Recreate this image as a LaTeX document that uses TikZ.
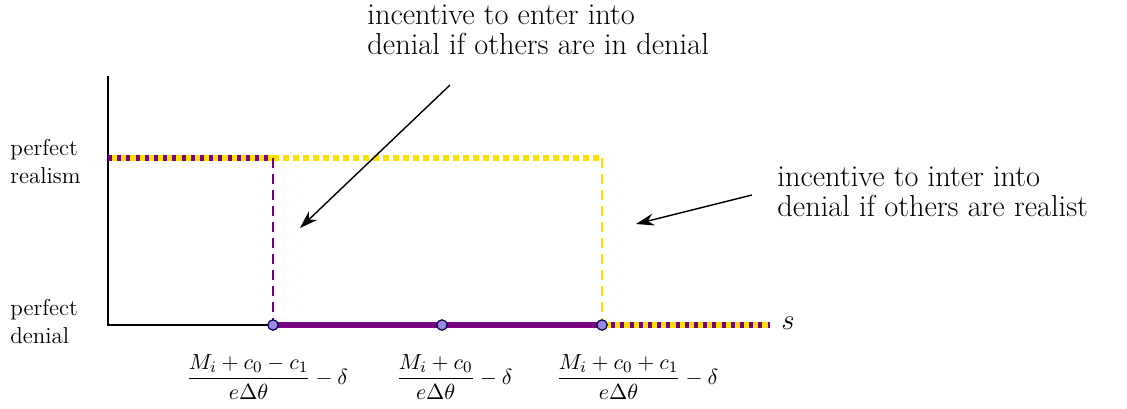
\documentclass[tikz,border=0pt]{standalone}
\usepackage{amsmath}
\usetikzlibrary{arrows.meta}
\definecolor{myyel}{RGB}{250,225,0}
\definecolor{mypur}{RGB}{120,0,130}
\definecolor{ptfill}{RGB}{150,140,230}
\begin{document}
\begin{tikzpicture}[x=0.5pt,y=-0.5pt,
  axis/.style={draw=black,line width=0.7pt},
  combo/.style={draw=myyel,line width=2.6pt},
  combotop/.style={draw=mypur,line width=2.6pt,dash pattern=on 2pt off 2.6pt},
  yeldash/.style={draw=myyel,line width=2.6pt,dash pattern=on 3pt off 2pt},
  vdash/.style={line width=0.9pt,dash pattern=on 5pt off 3pt},
  purthick/.style={draw=mypur,line width=2.6pt},
  pt/.style={circle,fill=ptfill,draw=black!70!blue,line width=0.6pt,inner sep=0pt,minimum size=5.2pt},
  lbl/.style={font=\fontsize{11.5}{14}\selectfont,align=left,inner sep=0pt},
  note/.style={font=\fontsize{15.2}{15}\selectfont,align=left,inner sep=0pt,anchor=north west},
  frac/.style={font=\fontsize{11.4}{13}\selectfont,inner sep=0pt},
  arr/.style={-{Stealth[length=9pt,width=6pt]},line width=0.7pt}]
\useasboundingbox (0,0) rectangle (1127,408);
% coordinates
\coordinate (O) at (108,325);
\coordinate (Ytop) at (108,76);
\coordinate (R0) at (108,158);
\coordinate (R1) at (273,158);
\coordinate (R2) at (602,158);
\coordinate (Send) at (770,325);
% axes
\draw[axis] (Ytop) -- (O) -- (273,325);
% top line
\draw[combo] (R0) -- (R1);
\draw[combotop] (R0) -- (R1);
\draw[yeldash] (R1) -- (R2);
% verticals
\draw[vdash,draw=mypur] (R1) -- (273,325);
\draw[vdash,draw=myyel] (R2) -- (602,325);
% bottom lines
\draw[purthick] (273,325) -- (602,325);
\draw[combo] (602,325) -- (Send);
\draw[combotop] (602,325) -- (Send);
\node[pt] (p1) at (273,325) {};
\node[pt] (p2) at (442,325) {};
\node[pt] (p3) at (602,325) {};
\node[font=\fontsize{14}{16}\selectfont,inner sep=0pt] (s) at (788,323) {$s$};
% left labels
\node[lbl,anchor=west] (real) at (10,162) {perfect\\realism};
\node[lbl,anchor=west] (den) at (10,322) {perfect\\denial};
% fractions
\node[frac,anchor=west] (f1) at (186,377) {$\dfrac{M_i+c_0-c_1}{e\Delta\theta}-\delta$};
\node[frac,anchor=west] (f2) at (396,377) {$\dfrac{M_i+c_0}{e\Delta\theta}-\delta$};
\node[frac,anchor=west] (f3) at (556,377) {$\dfrac{M_i+c_0+c_1}{e\Delta\theta}-\delta$};
% notes
\node[note] (n1) at (367,4) {incentive to enter into\\denial if others are in denial};
\node[note] (n2) at (777,166) {incentive to inter into\\denial if others are realist};
\coordinate (a1s) at (450,85);
\coordinate (a1e) at (300,228);
\coordinate (a2s) at (752,195);
\coordinate (a2e) at (636,224);
\draw[arr] (a1s) -- (a1e);
\draw[arr] (a2s) -- (a2e);
\end{tikzpicture}
\end{document}
